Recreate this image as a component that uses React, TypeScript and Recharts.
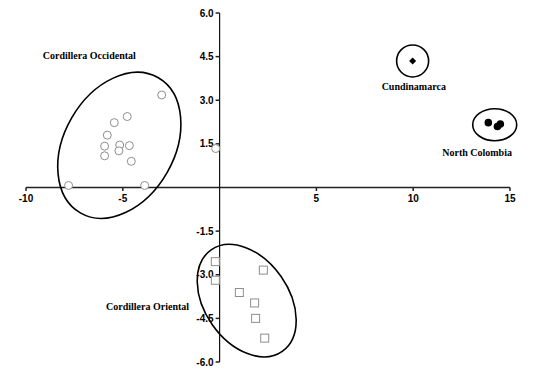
import React from "react";
import { ScatterChart, Scatter, XAxis, YAxis, ReferenceLine, ReferenceDot } from "recharts";

// Group point positions
const occidental = [
    { x: -2.99, y: 3.18 },
    { x: -4.77, y: 2.44 },
    { x: -5.44, y: 2.23 },
    { x: -5.8, y: 1.8 },
    { x: -5.94, y: 1.42 },
    { x: -5.16, y: 1.46 },
    { x: -4.66, y: 1.44 },
    { x: -5.2, y: 1.26 },
    { x: -5.94, y: 1.09 },
    { x: -4.56, y: 0.9 },
    { x: -7.8, y: 0.07 },
    { x: -3.87, y: 0.07 },
    { x: -0.2, y: 1.34 },
];

const oriental = [
    { x: -0.22, y: -2.55 },
    { x: -0.22, y: -3.19 },
    { x: 2.26, y: -2.84 },
    { x: 1.02, y: -3.61 },
    { x: 1.81, y: -3.97 },
    { x: 1.86, y: -4.5 },
    { x: 2.33, y: -5.18 },
];

const cundinamarca = [{ x: 9.97, y: 4.35 }];

const northColombia = [
    { x: 13.88, y: 2.23 },
    { x: 14.35, y: 2.1 },
    { x: 14.5, y: 2.18 },
];

const X_TICKS = [-10, -5, 5, 10, 15];
const Y_TICKS = [6, 4.5, 3, 1.5, -1.5, -3, -4.5, -6];

// group outlines (center in data units, radii in px) and label anchors
const ELLIPSES = [
    { x: -5.18, y: 1.45, rx: 78, ry: 55, angle: -60 },
    { x: 9.97, y: 4.35, rx: 16, ry: 16, angle: 0 },
    { x: 14.21, y: 2.16, rx: 22, ry: 16, angle: 0 },
    { x: 1.4, y: -3.89, rx: 62, ry: 42, angle: 55 },
];

const LABELS = [
    { text: "Cordillera Occidental", x: -6.73, y: 4.42 },
    { text: "Cundinamarca", x: 10.03, y: 3.35 },
    { text: "North Colombia", x: 13.3, y: 1.09 },
    { text: "Cordillera Oriental", x: -3.72, y: -4.21 },
];

const TICK_FONT = { fontFamily: "'Liberation Sans', Arial, sans-serif", fontWeight: 700, fontSize: 10 };
const LABEL_FONT = { fontFamily: "'Liberation Serif', 'Times New Roman', serif", fontWeight: 700, fontSize: 10 };
const GRAY = "#8e8e8e";

const OpenCircle = (p: any) => <circle cx={p.cx} cy={p.cy} r={4} fill="#fff" stroke={GRAY} strokeWidth={1} />;
const OpenSquare = (p: any) => (
    <rect x={p.cx - 4} y={p.cy - 4} width={8} height={8} fill="#fff" stroke={GRAY} strokeWidth={1} />
);
const Diamond = (p: any) => (
    <path d={`M${p.cx},${p.cy - 3.5}L${p.cx + 3.5},${p.cy}L${p.cx},${p.cy + 3.5}L${p.cx - 3.5},${p.cy}Z`} fill="#000" />
);
const Dot = (p: any) => <circle cx={p.cx} cy={p.cy} r={3.8} fill="#000" />;

export default function App() {
    return (
        <div style={{ width: 526, height: 363 }}>
            <ScatterChart width={526} height={363} margin={{ top: 5, right: 24, bottom: 9, left: 18 }}>
                <XAxis type="number" dataKey="x" domain={[-10, 15]} ticks={X_TICKS} hide />
                <YAxis type="number" dataKey="y" domain={[-6, 6]} ticks={Y_TICKS} hide />
                <ReferenceLine y={0} stroke="#222" strokeWidth={1.6} />
                <ReferenceLine x={0} stroke="#111" strokeWidth={1.2} />
                {X_TICKS.map((t) => (
                    <ReferenceDot
                        key={`xt${t}`}
                        x={t}
                        y={0}
                        r={0}
                        shape={(p: any) => (
                            <g>
                                <line x1={p.cx} y1={p.cy} x2={p.cx} y2={p.cy + 3.5} stroke="#222" strokeWidth={1.5} />
                                <text x={p.cx} y={p.cy + 14} textAnchor="middle" {...TICK_FONT} fill="#000">
                                    {t}
                                </text>
                            </g>
                        )}
                    />
                ))}
                {Y_TICKS.map((t) => (
                    <ReferenceDot
                        key={`yt${t}`}
                        x={0}
                        y={t}
                        r={0}
                        shape={(p: any) => (
                            <g>
                                <line x1={p.cx - 4} y1={p.cy} x2={p.cx} y2={p.cy} stroke="#222" strokeWidth={1.5} />
                                <text x={p.cx - 6} y={p.cy + 3.5} textAnchor="end" {...TICK_FONT} fill="#000">
                                    {t.toFixed(1)}
                                </text>
                            </g>
                        )}
                    />
                ))}
                <Scatter data={occidental} shape={OpenCircle} isAnimationActive={false} />
                <Scatter data={oriental} shape={OpenSquare} isAnimationActive={false} />
                <Scatter data={cundinamarca} shape={Diamond} isAnimationActive={false} />
                <Scatter data={northColombia} shape={Dot} isAnimationActive={false} />
                {ELLIPSES.map((e, i) => (
                    <ReferenceDot
                        key={`el${i}`}
                        x={e.x}
                        y={e.y}
                        r={0}
                        ifOverflow="visible"
                        shape={(p: any) => (
                            <ellipse
                                cx={p.cx}
                                cy={p.cy}
                                rx={e.rx}
                                ry={e.ry}
                                transform={`rotate(${e.angle} ${p.cx} ${p.cy})`}
                                fill="none"
                                stroke="#000"
                                strokeWidth={1.6}
                            />
                        )}
                    />
                ))}
                {LABELS.map((l) => (
                    <ReferenceDot
                        key={l.text}
                        x={l.x}
                        y={l.y}
                        r={0}
                        shape={(p: any) => (
                            <text x={p.cx} y={p.cy} textAnchor="middle" {...LABEL_FONT} fill="#000">
                                {l.text}
                            </text>
                        )}
                    />
                ))}
            </ScatterChart>
        </div>
    );
}
